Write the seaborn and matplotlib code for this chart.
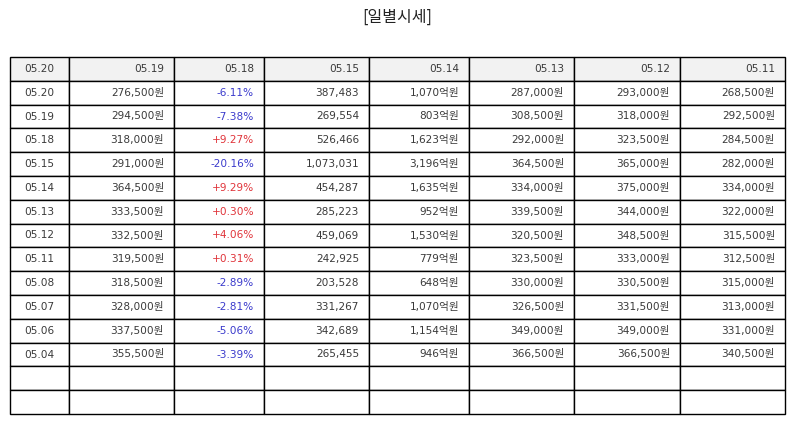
import matplotlib
matplotlib.use("Agg")
import matplotlib.pyplot as plt
import seaborn as sns

sns.set_theme(style="white")
plt.rcParams['font.family'] = ['DejaVu Sans', 'Noto Sans CJK KR']

title = "[일별시세]"
header = ["05.20", "05.19", "05.18", "05.15", "05.14", "05.13", "05.12", "05.11"]
dates = ["05.20", "05.19", "05.18", "05.15", "05.14", "05.13", "05.12", "05.11",
         "05.08", "05.07", "05.06", "05.04"]
close = [276500, 294500, 318000, 291000, 364500, 333500, 332500, 319500,
         318500, 328000, 337500, 355500]
change_pct = [-6.11, -7.38, 9.27, -20.16, 9.29, 0.30, 4.06, 0.31,
              -2.89, -2.81, -5.06, -3.39]
volume = [387483, 269554, 526466, 1073031, 454287, 285223, 459069, 242925,
          203528, 331267, 342689, 265455]
value_eok = [1070, 803, 1623, 3196, 1635, 952, 1530, 779, 648, 1070, 1154, 946]
open_p = [287000, 308500, 292000, 364500, 334000, 339500, 320500, 323500,
          330000, 326500, 349000, 366500]
high_p = [293000, 318000, 323500, 365000, 375000, 344000, 348500, 333000,
          330500, 331500, 349000, 366500]
low_p = [268500, 292500, 284500, 282000, 334000, 322000, 315500, 312500,
         315000, 313000, 331000, 340500]
n_empty = 2

col_px = [59, 105, 90, 105, 100, 105, 106, 105]

W, H = 794, 425
fig = plt.figure(figsize=(W / 100, H / 100), dpi=100)
fig.text(0.5, 1 - 17 / H, title, ha="center", va="center", fontsize=11.5,
         color="#222222", family=['Noto Sans CJK KR', 'DejaVu Sans'])

left, right, top, bottom = 10, 785, 57, 414
ax = fig.add_axes([left / W, 1 - bottom / H, (right - left) / W, (bottom - top) / H])
ax.axis("off")

rows = []
for i in range(len(dates)):
    rows.append([
        dates[i],
        f"{close[i]:,}원",
        f"{change_pct[i]:+.2f}%",
        f"{volume[i]:,}",
        f"{value_eok[i]:,}억원",
        f"{open_p[i]:,}원",
        f"{high_p[i]:,}원",
        f"{low_p[i]:,}원",
    ])
for _ in range(n_empty):
    rows.append([""] * len(header))

total = sum(col_px)
widths = [c / total for c in col_px]
tbl = ax.table(cellText=[header] + rows, colWidths=widths, bbox=[0, 0, 1, 1],
               cellLoc="right")
tbl.auto_set_font_size(False)

text_color = "#3a3a3a"
red = "#e0343a"
blue = "#3b3bcc"
for (r, c), cell in tbl.get_celld().items():
    cell.set_linewidth(1.0)
    cell.set_edgecolor("black")
    cell.PAD = 10 / col_px[c]
    t = cell.get_text()
    t.set_fontsize(7.6)
    t.set_color(text_color)
    if c == 0:
        t.set_horizontalalignment("center")
        cell._loc = "center"
    if r == 0:
        cell.set_facecolor("#f2f2f2")
    else:
        cell.set_facecolor("white")
        if c == 2 and r - 1 < len(change_pct):
            t.set_color(red if change_pct[r - 1] > 0 else blue)

fig.savefig("out.png", dpi=100)
